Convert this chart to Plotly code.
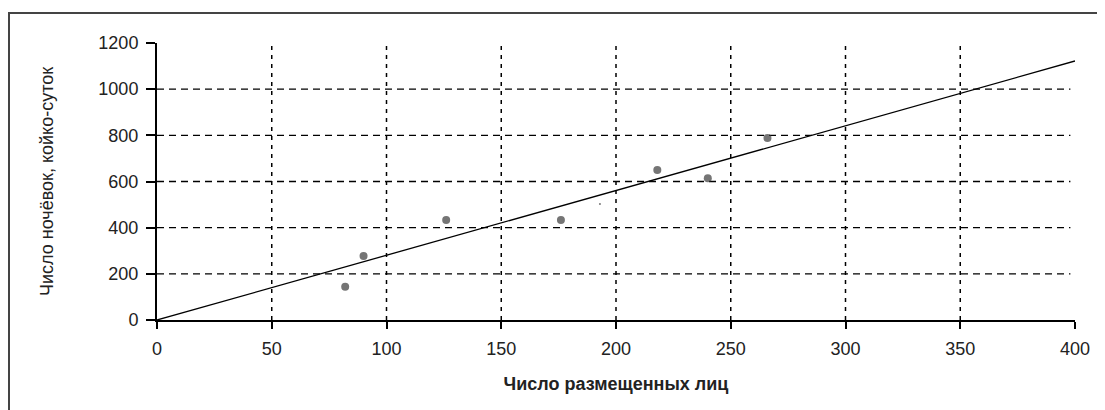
import plotly.graph_objects as go

# data
people = [82, 90, 126, 176, 193, 218, 240, 266]
nights = [144, 277, 433, 433, 502, 650, 614, 788]
point_sizes = [8, 8, 8, 8, 2, 8, 8, 8]
trend_x = [0, 400]
trend_y = [0, 1122]

x_ticks = [0, 50, 100, 150, 200, 250, 300, 350, 400]
y_ticks = [0, 200, 400, 600, 800, 1000, 1200]
x_grid = [50, 100, 150, 200, 250, 300, 350]
y_grid = [200, 400, 600, 800, 1000]

x_title = "Число размещенных лиц"
y_title = "Число ночёвок, койко-суток"

font = "Liberation Sans, Arial, sans-serif"

L, R, T, B = 149, 38, 35, 98
PW = 1105 - L - R
PH = 410 - T - B

fig = go.Figure()
fig.add_trace(go.Scatter(x=trend_x, y=trend_y, mode="lines",
                         line=dict(color="black", width=1.3),
                         showlegend=False, hoverinfo="skip"))
fig.add_trace(go.Scatter(x=people, y=nights, mode="markers",
                         marker=dict(color="#3a3a3a", size=point_sizes, line=dict(width=0)),
                         showlegend=False))

shapes = []
for gx in x_grid:
    shapes.append(dict(type="line", xref="x", yref="y", x0=gx, x1=gx, y0=0, y1=1200,
                       line=dict(color="black", width=1.5, dash="4px,5px"), layer="below"))
for gy in y_grid:
    shapes.append(dict(type="line", xref="x", yref="y", x0=0, x1=398, y0=gy, y1=gy,
                       line=dict(color="black", width=1.3, dash="7px,5px"), layer="below"))
# outer frame (cut at right and bottom like the reference)
shapes.append(dict(type="rect", xref="paper", yref="paper",
                   x0=(1 - L) / PW, x1=1 + (R + 20) / PW, y0=-(B + 20) / PH, y1=1 + (T - 5) / PH,
                   line=dict(color="#444444", width=2), layer="below"))

fig.update_layout(
    width=1105, height=410,
    margin=dict(l=L, r=R, t=T, b=B),
    paper_bgcolor="white", plot_bgcolor="white",
    font=dict(family=font, color="black", size=17),
    shapes=shapes,
    xaxis=dict(range=[0, 400], tickvals=x_ticks, showgrid=False, zeroline=False,
               showline=True, linecolor="black", linewidth=2,
               ticks="outside", ticklen=7, tickwidth=2, tickcolor="black",
               ticklabelstandoff=4,
               tickfont=dict(size=18, color="#222222"),
               title=dict(text="<b>" + x_title + "</b>", font=dict(size=18, color="#222222"), standoff=20)),
    yaxis=dict(range=[0, 1200], tickvals=y_ticks, showgrid=False, zeroline=False,
               showline=True, linecolor="black", linewidth=2,
               ticks="outside", ticklen=9, tickwidth=2, tickcolor="black",
               ticklabelstandoff=4,
               tickfont=dict(size=18, color="#222222"),
               title=dict(text=y_title, font=dict(size=18, color="#222222"), standoff=40)),
)

fig.write_html("out.html")
